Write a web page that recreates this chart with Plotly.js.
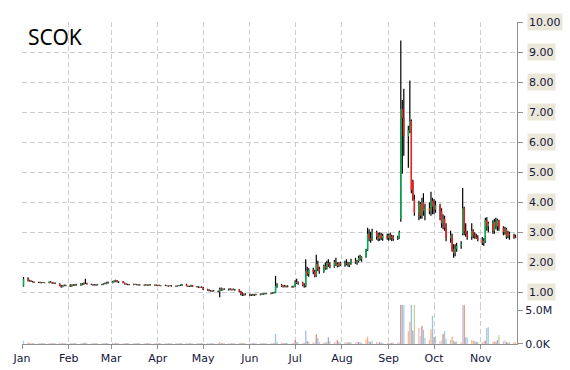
<!DOCTYPE html>
<html><head><meta charset="utf-8">
<script src="https://cdn.plot.ly/plotly-3.0.1.min.js"></script>
<style>html,body{margin:0;padding:0;background:#fff;}#chart{width:570px;height:370px;}</style>
</head><body><div id="chart"></div>
<script>
const ticker = 'SCOK';
const firstDay = '2015-01-02';
const lastDay = '2015-11-24';
const monthTicks = ['2015-01-01','2015-02-01','2015-03-01','2015-04-01','2015-05-01','2015-06-01','2015-07-01','2015-08-01','2015-09-01','2015-10-01','2015-11-01'];
const monthLabels = ['Jan','Feb','Mar','Apr','May','Jun','Jul','Aug','Sep','Oct','Nov'];
const priceTicks = [1,2,3,4,5,6,7,8,9,10];
const priceTickText = ['1.00','2.00','3.00','4.00','5.00','6.00','7.00','8.00','9.00','10.00'];
const volumeTicks = [0,5];
const volumeTickText = ['0.0K','5.0M'];

const open = [
 1.22,1.45,1.40,1.38,1.36,1.35,1.33,1.34,1.31,1.33,1.32,1.31,1.35,1.33,1.30,1.32,1.29,1.22,1.18,1.23,1.21,
 1.24,1.20,1.25,1.22,1.27,1.24,1.29,1.26,1.31,1.30,1.27,1.25,1.26,1.24,1.25,1.27,1.25,1.29,1.28,1.33,
 1.31,1.36,1.35,1.40,1.34,1.36,1.31,1.28,1.27,1.26,1.25,1.28,1.26,1.25,1.26,1.24,1.25,1.24,1.23,1.26,1.24,1.25,
 1.23,1.24,1.22,1.23,1.22,1.21,1.22,1.23,1.20,1.22,1.21,1.23,1.22,1.27,1.21,1.20,1.19,1.23,1.19,1.18,1.16,1.18,
 1.16,1.10,1.07,1.06,1.05,1.06,1.04,1.02,1.12,1.08,1.11,1.10,1.12,1.08,1.11,1.09,1.10,1.03,0.95,0.92,0.94,
 0.93,0.90,0.92,0.91,0.93,0.92,0.95,0.94,0.96,0.95,0.97,0.96,0.99,0.98,1.22,1.25,1.20,1.22,1.18,1.21,1.19,1.17,
 1.21,1.35,1.30,1.33,1.24,1.22,1.70,1.62,1.75,1.68,1.55,1.95,1.78,1.70,1.88,1.80,1.98,1.92,1.85,2.02,1.95,1.87,1.98,
 1.92,1.98,1.95,1.90,1.97,2.05,2.00,2.04,2.15,2.10,2.18,2.40,2.95,2.80,2.75,3.00,2.85,2.78,2.92,2.80,2.88,
 2.82,2.90,2.80,2.85,2.78,2.82,3.45,7.10,6.80,6.20,6.40,6.70,4.70,4.10,3.65,3.95,3.55,4.00,3.70,3.80,3.70,4.05,
 3.85,3.75,3.90,3.70,3.30,3.45,3.15,2.80,2.90,2.45,2.30,2.45,2.55,2.95,3.80,3.05,2.95,2.85,3.05,2.90,2.85,2.82,
 2.75,2.65,2.70,3.40,3.20,3.30,3.05,3.35,3.20,3.40,3.15,3.00,3.10,2.85,2.95,2.90,2.85
];
const high = [
 1.51,1.50,1.42,1.40,1.38,1.36,1.35,1.35,1.34,1.34,1.33,1.36,1.37,1.34,1.33,1.33,1.30,1.25,1.24,1.26,1.25,
 1.27,1.26,1.27,1.28,1.29,1.30,1.31,1.33,1.45,1.32,1.29,1.27,1.28,1.27,1.28,1.29,1.30,1.33,1.35,1.36,
 1.38,1.40,1.42,1.41,1.37,1.38,1.33,1.30,1.29,1.28,1.29,1.29,1.28,1.27,1.27,1.26,1.27,1.26,1.27,1.27,1.26,1.26,
 1.25,1.25,1.24,1.25,1.24,1.23,1.24,1.24,1.23,1.23,1.24,1.26,1.28,1.29,1.23,1.22,1.25,1.24,1.21,1.20,1.19,1.20,
 1.18,1.12,1.10,1.08,1.07,1.08,1.06,1.15,1.16,1.13,1.14,1.13,1.14,1.12,1.13,1.11,1.11,1.05,1.00,0.96,0.97,
 0.96,0.94,0.95,0.94,0.95,0.96,0.97,0.97,0.98,0.98,0.99,1.00,1.02,1.55,1.30,1.28,1.24,1.25,1.23,1.24,1.22,1.22,
 1.40,1.45,1.36,1.35,1.30,2.10,1.85,1.80,1.82,1.75,2.25,2.05,1.85,1.92,2.00,2.05,2.10,2.00,2.08,2.15,2.00,2.00,2.02,
 2.05,2.10,2.02,2.00,2.12,2.15,2.08,2.22,2.25,2.20,2.45,3.15,3.10,3.02,3.12,3.05,2.98,3.00,2.98,2.95,2.96,
 2.95,2.98,2.92,2.90,2.88,3.05,9.38,7.40,7.78,6.55,8.05,6.75,4.75,4.25,4.05,4.00,4.15,4.30,3.95,4.00,4.35,4.15,
 4.10,4.05,3.95,3.80,3.60,3.55,3.30,3.05,2.95,2.60,2.60,2.65,2.70,4.47,3.85,3.30,3.05,3.30,3.10,3.00,2.95,2.90,
 2.84,2.80,3.48,3.50,3.35,3.40,3.45,3.48,3.45,3.42,3.20,3.18,3.15,3.05,3.02,2.95,2.92
];
const low = [
 1.19,1.36,1.36,1.34,1.33,1.32,1.31,1.30,1.30,1.31,1.30,1.30,1.32,1.29,1.29,1.28,1.20,1.15,1.17,1.20,1.20,
 1.18,1.19,1.21,1.21,1.23,1.22,1.24,1.25,1.28,1.26,1.24,1.22,1.23,1.22,1.23,1.24,1.24,1.27,1.27,1.29,
 1.30,1.33,1.34,1.33,1.31,1.30,1.26,1.25,1.24,1.24,1.24,1.25,1.24,1.23,1.23,1.22,1.23,1.22,1.22,1.23,1.22,1.22,
 1.21,1.21,1.20,1.21,1.20,1.19,1.20,1.19,1.19,1.19,1.20,1.21,1.21,1.20,1.18,1.18,1.18,1.18,1.16,1.14,1.15,1.15,
 1.08,1.05,1.04,1.03,1.02,1.03,1.00,0.84,1.05,1.06,1.08,1.06,1.07,1.06,1.07,1.05,1.00,0.90,0.88,0.89,0.90,
 0.88,0.88,0.89,0.88,0.90,0.90,0.92,0.92,0.93,0.94,0.94,0.95,0.96,0.97,1.15,1.18,1.16,1.17,1.16,1.17,1.15,1.16,
 1.19,1.28,1.25,1.20,1.15,1.17,1.55,1.52,1.60,1.50,1.52,1.70,1.62,1.65,1.75,1.76,1.85,1.80,1.82,1.88,1.83,1.84,1.88,
 1.85,1.90,1.85,1.84,1.92,1.95,1.92,2.00,2.05,2.02,2.15,2.38,2.70,2.65,2.72,2.75,2.70,2.72,2.74,2.72,2.75,
 2.72,2.75,2.70,2.72,2.74,2.78,3.35,4.95,5.55,5.15,6.30,4.30,4.05,3.55,3.40,3.45,3.45,3.55,3.40,3.60,3.55,3.60,
 3.60,3.65,3.40,3.15,3.10,3.05,2.70,2.65,2.35,2.15,2.20,2.35,2.45,2.90,2.90,2.85,2.75,2.75,2.80,2.78,2.78,2.70,
 2.58,2.55,2.65,3.05,3.00,2.95,2.95,3.10,3.05,3.05,2.90,2.92,2.78,2.80,2.75,2.78,2.80
];
const close = [
 1.45,1.40,1.38,1.36,1.35,1.33,1.34,1.31,1.33,1.32,1.31,1.35,1.33,1.30,1.32,1.29,1.22,1.18,1.23,1.21,1.24,
 1.20,1.25,1.22,1.27,1.24,1.29,1.26,1.31,1.30,1.27,1.25,1.26,1.24,1.25,1.27,1.25,1.29,1.28,1.33,1.31,
 1.36,1.35,1.40,1.34,1.36,1.31,1.28,1.27,1.26,1.25,1.28,1.26,1.25,1.26,1.24,1.25,1.24,1.23,1.26,1.24,1.25,1.23,
 1.24,1.22,1.23,1.22,1.21,1.22,1.23,1.20,1.22,1.21,1.23,1.22,1.27,1.21,1.20,1.19,1.23,1.19,1.18,1.16,1.18,1.16,
 1.10,1.07,1.06,1.05,1.06,1.04,1.02,1.12,1.08,1.11,1.10,1.12,1.08,1.11,1.09,1.10,1.03,0.95,0.92,0.94,0.93,
 0.90,0.92,0.91,0.93,0.92,0.95,0.94,0.96,0.95,0.97,0.96,0.99,0.98,1.22,1.25,1.20,1.22,1.18,1.21,1.19,1.17,1.21,
 1.35,1.30,1.33,1.24,1.22,1.70,1.62,1.75,1.68,1.55,1.95,1.78,1.70,1.88,1.80,1.98,1.92,1.85,2.02,1.95,1.87,1.98,1.92,
 1.98,1.95,1.90,1.97,2.05,2.00,2.04,2.15,2.10,2.18,2.40,2.95,2.80,2.75,3.00,2.85,2.78,2.92,2.80,2.88,2.82,
 2.90,2.80,2.85,2.78,2.82,3.00,7.10,6.80,6.20,6.40,6.70,4.40,4.10,3.65,3.95,3.55,4.00,3.70,3.80,3.70,4.05,3.85,
 3.75,3.90,3.70,3.30,3.45,3.15,2.80,2.90,2.45,2.30,2.45,2.55,2.60,3.80,3.05,2.95,2.85,3.05,2.90,2.85,2.82,2.75,
 2.65,2.70,3.40,3.20,3.30,3.05,3.35,3.20,3.40,3.15,3.00,3.10,2.85,2.95,2.90,2.85,2.82
];
// volume in millions of shares
const volumeM = [
 0.5,0.25,0.15,0.1,0.12,0.1,0.15,0.1,0.12,0.1,0.1,0.12,0.1,0.1,0.12,0.1,0.2,0.15,0.12,0.1,0.1,
 0.12,0.1,0.1,0.12,0.1,0.1,0.12,0.15,0.25,0.1,0.1,0.12,0.1,0.1,0.12,0.1,0.12,0.1,0.15,0.12,
 0.15,0.12,0.2,0.12,0.1,0.12,0.1,0.1,0.1,0.12,0.1,0.1,0.1,0.12,0.1,0.1,0.1,0.1,0.12,0.1,0.1,0.1,
 0.1,0.1,0.1,0.12,0.1,0.1,0.1,0.12,0.1,0.1,0.1,0.1,0.15,0.15,0.1,0.1,0.12,0.1,0.1,0.12,0.1,0.1,
 0.12,0.1,0.1,0.1,0.1,0.1,0.12,0.3,0.15,0.12,0.1,0.12,0.1,0.12,0.1,0.1,0.15,0.2,0.15,0.12,0.1,
 0.12,0.1,0.1,0.12,0.1,0.1,0.1,0.12,0.1,0.1,0.1,0.12,0.1,1.5,0.3,0.2,0.15,0.12,0.15,0.1,0.12,0.15,
 0.6,0.3,0.2,0.15,0.2,2.0,0.45,0.3,0.25,0.2,1.4,0.9,0.3,0.25,0.2,0.3,1.0,0.4,0.3,0.25,0.6,0.3,0.2,
 0.25,0.2,0.3,0.2,0.25,0.2,0.4,0.3,0.25,0.2,0.7,1.1,0.4,0.3,0.5,0.3,0.2,0.25,0.2,0.2,0.15,
 0.15,0.12,0.2,0.15,0.2,0.3,8.0,7.0,6.5,1.9,3.3,7.5,2.0,6.2,2.4,1.2,2.7,2.1,0.9,0.6,2.2,4.2,
 1.0,1.2,0.4,0.5,1.5,1.9,0.8,0.6,1.1,0.5,0.3,0.4,0.3,6.5,6.0,1.0,1.0,0.6,0.5,0.4,0.3,0.3,
 0.3,0.4,0.5,2.4,2.5,0.3,0.4,0.3,0.6,1.3,0.4,0.6,0.3,0.2,0.3,0.3,0.2
];

// trading calendar: weekdays between first and last session
function tradingDays(a, b) {
  const out = [];
  const d = new Date(a + 'T00:00:00Z');
  const end = new Date(b + 'T00:00:00Z');
  while (d <= end) {
    const wd = d.getUTCDay();
    if (wd !== 0 && wd !== 6) out.push(d.toISOString().slice(0, 10));
    d.setUTCDate(d.getUTCDate() + 1);
  }
  return out;
}
const dates = tradingDays(firstDay, lastDay);

const UP = '#00b050', DOWN = '#ff1a1a';
// candle bodies as vertical segments (open -> close), split by direction
function bodySegments(up) {
  const xs = [], ys = [];
  dates.forEach((d, i) => {
    const isUp = close[i] >= open[i];
    if (isUp === up) { xs.push(d, d, null); ys.push(open[i], close[i], null); }
  });
  return {xs, ys};
}
const upBody = bodySegments(true);
const downBody = bodySegments(false);

const volPalette = ['#a6c6e6','#f3b29d','#f6ab70','#9ab8e0','#a596cc','#b7d090','#ecb0b9','#c3d4ec','#dc7d6c','#92bfdb'];
const volColors = volumeM.map((v, i) => volPalette[i % volPalette.length]);

const FONT = 'DejaVu Sans, Verdana, sans-serif';
const TXT = '#15153d';
const AX = '#8f8f8f';
const GRID = '#cdcdcd';
const DAY = 86400000;

const traces = [
  {type: 'bar', x: dates, y: volumeM, xaxis: 'x', yaxis: 'y2', width: DAY * 0.85,
   marker: {color: volColors, line: {width: 0}}, opacity: 0.9, hoverinfo: 'skip'},
  {type: 'ohlc', x: dates, open: open, high: high, low: low, close: close, tickwidth: 0,
   xaxis: 'x', yaxis: 'y',
   increasing: {line: {color: '#000000', width: 1.2}}, decreasing: {line: {color: '#000000', width: 1.2}},
   hoverinfo: 'skip'},
  {type: 'scatter', mode: 'lines', x: upBody.xs, y: upBody.ys, connectgaps: false,
   line: {color: UP, width: 1.4}, hoverinfo: 'skip'},
  {type: 'scatter', mode: 'lines', x: downBody.xs, y: downBody.ys, connectgaps: false,
   line: {color: DOWN, width: 1.4}, hoverinfo: 'skip'}
];

const annotations = priceTicks.map((v, i) => ({
  xref: 'paper', yref: 'y', x: 1, y: v, xanchor: 'left', yanchor: 'middle', xshift: 10,
  text: priceTickText[i], showarrow: false, bgcolor: '#ebe8da', borderpad: 1, height: 14,
  font: {family: FONT, size: 11, color: TXT}
}));
annotations.push({
  xref: 'paper', yref: 'paper', x: 0, y: 0.952, xanchor: 'left', yanchor: 'middle', xshift: 4,
  text: ticker, showarrow: false, font: {family: 'Noto Sans, Open Sans, sans-serif', size: 21, color: '#000'}
});

const layout = {
  width: 570, height: 370,
  margin: {l: 22, r: 53, t: 22, b: 26, pad: 0},
  paper_bgcolor: '#ffffff', plot_bgcolor: '#ffffff',
  showlegend: false,
  font: {family: FONT, size: 11, color: TXT},
  xaxis: {type: 'date', range: ['2015-01-01', '2015-11-25'], rangeslider: {visible: false},
    tickvals: monthTicks, ticktext: monthLabels, tickangle: 0,
    showgrid: true, gridcolor: GRID, griddash: '5px,3px', gridwidth: 1,
    showline: true, linecolor: AX, ticks: 'outside', ticklen: 4, tickcolor: AX,
    tickfont: {family: FONT, size: 11, color: TXT}, zeroline: false, fixedrange: true},
  yaxis: {domain: [0, 1], range: [-0.72, 10], side: 'right', tickvals: priceTicks,
    showticklabels: false, ticks: 'outside', ticklen: 5, tickcolor: AX,
    showline: true, linecolor: AX, showgrid: true, gridcolor: GRID, griddash: '5px,3px',
    zeroline: false, fixedrange: true},
  yaxis2: {domain: [0, 0.121], range: [0, 5.81], side: 'right', anchor: 'x',
    tickvals: volumeTicks, ticktext: volumeTickText, ticks: 'outside', ticklen: 5, tickcolor: AX,
    showgrid: false, zeroline: false, showline: false,
    tickfont: {family: FONT, size: 11, color: TXT}, fixedrange: true},
  annotations: annotations
};

Plotly.newPlot('chart', traces, layout, {displayModeBar: false, staticPlot: true});
</script>
</body></html>
